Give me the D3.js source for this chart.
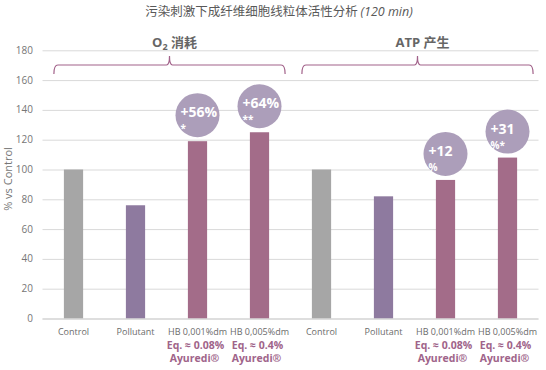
<!DOCTYPE html>
<html>
<head>
<meta charset="utf-8">
<script src="https://cdn.jsdelivr.net/npm/d3@7"></script>
<style>
  body { margin: 0; background: #fff; }
  svg text { font-family: "Open Sans", "Noto Sans CJK SC", sans-serif; }
</style>
</head>
<body>
<div id="chart"></div>
<script>
const categories = ["Control", "Pollutant", "HB 0,001%dm", "HB 0,005%dm",
                    "Control", "Pollutant", "HB 0,001%dm", "HB 0,005%dm"];
const values = [100, 76, 119, 125, 100, 82, 93, 108];
const eqLabels = ["", "", "Eq. ≈ 0.08%", "Eq. ≈ 0.4%", "", "", "Eq. ≈ 0.08%", "Eq. ≈ 0.4%"];
const brandLabels = ["", "", "Ayuredi®", "Ayuredi®", "", "", "Ayuredi®", "Ayuredi®"];
const badges = [null, null, ["+56%", "*"], ["+64%", "**"], null, null, ["+12", "%"], ["+31", "%*"]];
const groups = [
    { main: "O", sub: "2", rest: " 消耗", from: 0, to: 3 },
    { main: "ATP 产生", sub: "", rest: "", from: 4, to: 7 }
];
const yTicks = [0, 20, 40, 60, 80, 100, 120, 140, 160, 180];

const W = 546, H = 370;
const plot = { left: 42.5, right: 538.5, top: 50.3, bottom: 318.5 };

const svg = d3.select("#chart").append("svg")
    .attr("width", W).attr("height", H);

const x = d3.scaleBand()
    .domain(d3.range(categories.length))
    .range([plot.left, plot.right])
    .paddingInner(0.69)
    .paddingOuter(0.345);

const y = d3.scaleLinear()
    .domain([0, 180])
    .range([plot.bottom, plot.top]);

const color = d3.scaleOrdinal()
    .domain(["Control", "Pollutant", "HB 0,001%dm", "HB 0,005%dm"])
    .range(["#a6a6a6", "#8e7a9f", "#a36c89", "#a36c89"]);

// grid
svg.append("g")
    .attr("transform", `translate(${plot.left},0)`)
    .call(d3.axisLeft(y).tickValues(yTicks).tickSize(-(plot.right - plot.left)).tickFormat(""))
    .call(g => g.select(".domain").remove())
    .selectAll("line").attr("stroke", "#d9d9d9").attr("stroke-width", 1);

// y labels
svg.append("g")
    .selectAll("text")
    .data(yTicks)
    .join("text")
    .attr("x", 33)
    .attr("y", d => y(d) + 3.5)
    .attr("text-anchor", "end")
    .style("font-size", "10px")
    .style("fill", "#767676")
    .text(d => d);

svg.append("text")
    .attr("transform", `translate(12,179) rotate(-90)`)
    .attr("text-anchor", "middle")
    .style("font-size", "11px")
    .style("fill", "#767676")
    .text("% vs Control");

// bars
svg.append("g")
    .selectAll("rect")
    .data(values)
    .join("rect")
    .attr("x", (d, i) => x(i))
    .attr("y", d => y(d))
    .attr("width", x.bandwidth())
    .attr("height", d => y(0) - y(d))
    .attr("fill", (d, i) => color(categories[i]));

// baseline
svg.append("line")
    .attr("x1", plot.left).attr("x2", plot.right)
    .attr("y1", y(0) + 0.5).attr("y2", y(0) + 0.5)
    .attr("stroke", "#d0d0d0");

// category labels
const cx = i => x(i) + x.bandwidth() / 2;
const labels = svg.append("g").selectAll("g")
    .data(categories)
    .join("g")
    .attr("transform", (d, i) => `translate(${cx(i)},0)`);

labels.append("text")
    .attr("y", 334.5)
    .attr("text-anchor", "middle")
    .style("font-size", "9px")
    .style("fill", "#6b6b6b")
    .text(d => d);

labels.append("text")
    .attr("x", -2)
    .attr("y", 348.5)
    .attr("text-anchor", "middle")
    .style("font-size", "10.5px")
    .style("font-weight", "bold")
    .style("fill", "#a0648a")
    .text((d, i) => eqLabels[i]);

labels.append("text")
    .attr("x", -3)
    .attr("y", 362)
    .attr("text-anchor", "middle")
    .style("font-size", "10.5px")
    .style("font-weight", "bold")
    .style("fill", "#a0648a")
    .text((d, i) => brandLabels[i]);

// badges
const badge = svg.append("g").selectAll("g")
    .data(values.map((v, i) => ({ v, i, b: badges[i] })).filter(d => d.b))
    .join("g")
    .attr("transform", d => `translate(${cx(d.i)},${y(d.v) - 26})`);

badge.append("circle")
    .attr("r", 22)
    .attr("fill", "#ac9eba");

badge.append("text")
    .attr("x", -17)
    .attr("y", 2)
    .style("fill", "#fff")
    .style("font-weight", "bold")
    .style("font-size", "14px")
    .text(d => d.b[0]);

badge.append("text")
    .attr("x", -17)
    .attr("y", 17)
    .style("fill", "#fff")
    .style("font-weight", "bold")
    .style("font-size", "10px")
    .text(d => d.b[1]);

// group braces
const braceY = 65;
groups.forEach(g => {
    const x0 = x(g.from) - 10;
    const x1 = x(g.to) + x.bandwidth() + 16;
    const xm = (x0 + x1) / 2;
    svg.append("path")
        .attr("d", `M${x0},74 Q${x0},${braceY} ${x0 + 4},${braceY} L${xm - 3},${braceY} ` +
                   `Q${xm},${braceY} ${xm},56 Q${xm},${braceY} ${xm + 3},${braceY} ` +
                   `L${x1 - 4},${braceY} Q${x1},${braceY} ${x1},74`)
        .attr("fill", "none")
        .attr("stroke", "#a2628a")
        .attr("stroke-width", 1.2);

    const t = svg.append("text")
        .attr("x", xm + 5)
        .attr("y", 47)
        .attr("text-anchor", "middle")
        .style("font-size", "13px")
        .style("font-weight", "bold")
        .style("fill", "#666");
    t.append("tspan").text(g.main);
    if (g.sub) {
        t.append("tspan").attr("dy", 3).style("font-size", "9px").text(g.sub);
        t.append("tspan").attr("dy", -3).text(g.rest);
    }
});

// title
const title = svg.append("text")
    .attr("x", 279)
    .attr("y", 16)
    .attr("text-anchor", "middle")
    .style("font-size", "12.5px")
    .style("fill", "#595959");
title.append("tspan")
    .style("font-family", "'Noto Sans CJK SC', sans-serif")
    .text("污染刺激下成纤维细胞线粒体活性分析 ");
title.append("tspan")
    .style("font-style", "italic")
    .text("(120 min)");
</script>
</body>
</html>
